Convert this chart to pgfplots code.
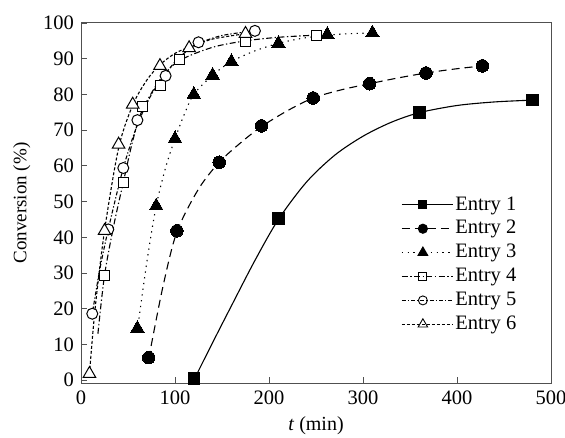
\documentclass[border=0pt]{standalone}
\usepackage{fontspec}
\setmainfont{Liberation Serif}
\usepackage{pgfplots}
\pgfplotsset{compat=1.18}
\usetikzlibrary{calc}
\definecolor{axgray}{HTML}{505050}
\tikzset{
  e1/.style={solid},
  e2/.style={dash pattern=on 8pt off 5pt},
  e3/.style={dash pattern=on 1.3pt off 4.5pt},
  e4/.style={dash pattern=on 6pt off 2.5pt on 1.3pt off 2.5pt},
  e5/.style={dash pattern=on 4pt off 2pt on 1.3pt off 2pt},
  e6/.style={dash pattern=on 3pt off 2pt},
}
\begin{document}
\fontsize{20.5}{23}\selectfont
\begin{tikzpicture}
\begin{axis}[name=ax,
  scale only axis, width=470pt, height=360pt,
  xmin=0, xmax=500, ymin=-0.8, ymax=100,
  xtick={0,100,...,500}, ytick={0,10,...,100},
  tick align=inside, xtick pos=bottom, ytick pos=left,
  major tick length=6pt,
  axis line style={draw=axgray, line width=1pt},
  tick style={draw=axgray, line width=0.9pt},
  /pgf/number format/assume math mode=true,
  tick label style={font=\fontsize{20.5}{23}\selectfont},
  xticklabel style={yshift=-1pt},
  xlabel style={font=\fontsize{20}{23}\selectfont, yshift=2pt},
  ylabel style={font=\fontsize{19}{22}\selectfont, yshift=-1pt},
  xlabel={\textit{t} (min)},
  ylabel={Conversion (\%)},
  every axis plot/.append style={black, line width=1.1pt},
  legend image code/.code={\draw[mark repeat=2, mark phase=2]
    plot coordinates {(0pt,0pt) (21pt,0pt) (42pt,0pt)};
    \path (0pt,0pt) -- (51pt,0pt);},
  legend style={at={(0.679,0.527)}, anchor=north west, draw=none, fill=none,
    font=\fontsize{20.5}{23}\selectfont, row sep=3.3pt, inner sep=1pt},
  legend cell align=left,
]
% fitted curves
\addplot[e1, smooth, forget plot] coordinates {(120,0) (140,10.5) (160,20.8) (185,33.5) (210,45) (240,55.5) (270,63) (300,68.3) (330,72.2) (360,74.9) (400,76.9) (440,77.9) (480,78.4)};
\addplot[e2, smooth, forget plot] coordinates {(72,6) (87,26) (102,41.5) (125,53.5) (147,61) (170,66.5) (192,71) (220,75.5) (247,79) (277,81.3) (307,83) (337,84.6) (367,86) (397,87.1) (427,88)};
\addplot[e3, smooth, forget plot] coordinates {(60,14) (70,33) (80,48.8) (90,59.5) (100,67.6) (110,74.5) (120,80) (140,85.4) (160,89.2) (185,92.2) (210,94.3) (235,95.7) (262,96.6) (285,97) (310,97.2)};
\addplot[e4, smooth, forget plot] coordinates {(18,13) (25,29.3) (35,43.5) (45,55.4) (55,67) (65,75.5) (85,84.5) (105,89.5) (140,93.2) (175,95) (210,96) (250,96.6)};
\addplot[e5, smooth, forget plot] coordinates {(12,18.6) (20,31) (29,42.2) (45,59.4) (60,71.5) (75,80) (90,85.8) (105,90.5) (125,94.2) (150,96.5) (185,97.8)};
\addplot[e6, smooth, forget plot] coordinates {(9,1.8) (15,20) (25,41.8) (40,65) (55,77) (70,84) (84,88.3) (100,91.5) (115,93.2) (140,95.5) (175,97)};
% measured points
\addplot[only marks, forget plot, mark=square*, mark size=5.8pt, mark options={fill=black, line width=0pt}]
  coordinates {(120,0.5) (210,45.2) (360,74.9) (480,78.4)};
\addplot[only marks, forget plot, mark=*, mark size=6.3pt, mark options={fill=black, line width=0pt}]
  coordinates {(72,6.3) (102,41.8) (147,61) (192,71.2) (247,79) (307,83) (367,86) (427,88)};
\addplot[only marks, forget plot, mark=triangle*, mark size=7.8pt, mark options={fill=black, line width=0pt}]
  coordinates {(60,14.5) (80,48.8) (100,67.6) (120,80) (140,85.4) (160,89.2) (210,94.3) (262,96.8) (310,97.2)};
\addplot[only marks, forget plot, mark=square*, mark size=5pt, mark options={fill=white, line width=1pt}]
  coordinates {(25,29.3) (45,55.4) (65,76.6) (85,82.6) (105,89.8) (175,94.7) (250,96.4)};
\addplot[only marks, forget plot, mark=*, mark size=5.5pt, mark options={fill=white, line width=1pt}]
  coordinates {(12,18.6) (29,42.2) (45,59.4) (60,72.8) (90,85.2) (125,94.6) (185,97.8)};
\addplot[only marks, forget plot, mark=triangle*, mark size=7.2pt, mark options={fill=white, line width=1pt}]
  coordinates {(9,1.8) (25,41.8) (40,66) (55,77.2) (84,88) (115,93) (175,97)};
% legend
\addlegendimage{black, line width=1.1pt, e1, mark=square*, mark size=4pt, mark options={solid, fill=black}}
\addlegendentry{Entry 1}
\addlegendimage{black, line width=1.1pt, e2, mark=*, mark size=4.5pt, mark options={solid, fill=black}}
\addlegendentry{Entry 2}
\addlegendimage{black, line width=1.1pt, e3, mark=triangle*, mark size=5.5pt, mark options={solid, fill=black}}
\addlegendentry{Entry 3}
\addlegendimage{black, line width=1.1pt, e4, mark=square*, mark size=4pt, mark options={solid, fill=white, line width=0.9pt}}
\addlegendentry{Entry 4}
\addlegendimage{black, line width=1.1pt, e5, mark=*, mark size=4.5pt, mark options={solid, fill=white, line width=0.9pt}}
\addlegendentry{Entry 5}
\addlegendimage{black, line width=1.1pt, e6, mark=triangle*, mark size=5.5pt, mark options={solid, fill=white, line width=0.9pt}}
\addlegendentry{Entry 6}
\end{axis}
\pgfresetboundingbox
\path[use as bounding box] ($(ax.south west)+(-81pt,-54pt)$) rectangle ($(ax.north east)+(14pt,23pt)$);
\end{tikzpicture}
\end{document}
